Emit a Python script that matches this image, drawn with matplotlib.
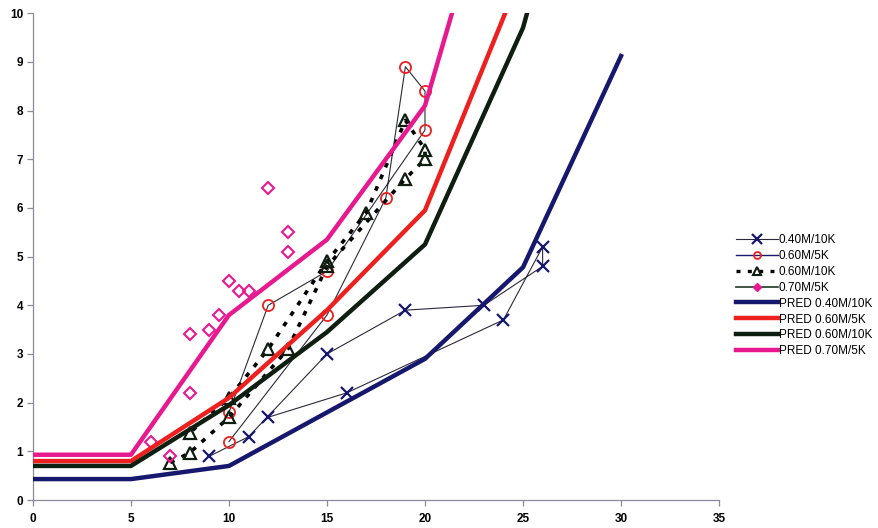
import matplotlib
matplotlib.use("Agg")
import matplotlib.pyplot as plt
from matplotlib.lines import Line2D

plt.rcParams["font.family"] = ["Liberation Sans", "DejaVu Sans"]

# predicted curves (x, y) per test condition
pred_x = [0, 5, 10, 15, 20, 25, 30]
pred_040_10k = [0.43, 0.43, 0.70, 1.80, 2.90, 4.78, 9.12]
pred_060_5k = [0.80, 0.80, 2.10, 3.90, 5.95, 10.9, 16.0]
pred_060_10k = [0.70, 0.70, 1.95, 3.45, 5.25, 9.70, 17.0]
pred_070_5k = [0.93, 0.93, 3.80, 5.35, 8.10, 15.0, 22.0]

# measured points, kept in recording order
m040_x = [9, 11, 15, 19, 23, 26, 26, 24, 16, 12]
m040_y = [0.9, 1.3, 3.0, 3.9, 4.0, 4.8, 5.2, 3.7, 2.2, 1.7]

m060_5k_x = [10, 12, 15, 20, 20, 19, 18, 15, 10]
m060_5k_y = [1.8, 4.0, 4.7, 7.6, 8.4, 8.9, 6.2, 3.8, 1.2]

m060_10k_x = [7, 8, 10, 13, 15, 19, 20, 20, 19, 17, 15, 12, 10, 8]
m060_10k_y = [0.77, 0.97, 1.7, 3.1, 4.8, 6.6, 7.0, 7.2, 7.8, 5.9, 4.9, 3.1, 2.1, 1.38]

m070_x = [6, 7, 8, 8, 9, 9.5, 10, 10.5, 11, 12, 13, 13]
m070_y = [1.2, 0.9, 2.2, 3.4, 3.5, 3.8, 4.5, 4.3, 4.3, 6.4, 5.5, 5.1]

labels = ["0.40M/10K", "0.60M/5K", "0.60M/10K", "0.70M/5K",
          "PRED 0.40M/10K", "PRED 0.60M/5K", "PRED 0.60M/10K", "PRED 0.70M/5K"]

NAVY = "#16186e"
RED = "#ee1f1f"
DKGRN = "#0e1e10"
PINK = "#e8198f"
THIN = "#2a2a3a"

fig = plt.figure(figsize=(8.79, 5.28), dpi=100)
ax = fig.add_axes([0.0375, 0.053, 0.7805, 0.922])

ax.plot(m040_x, m040_y, color=THIN, lw=0.8, marker="x", ms=8, mew=1.6,
        mec=NAVY, zorder=3)
ax.plot(m060_5k_x, m060_5k_y, color=THIN, lw=0.8, marker="o", ms=8,
        mfc="none", mec=RED, mew=1.3, zorder=3)
ax.plot(m060_10k_x, m060_10k_y, color="black", lw=2.6, ls=(0, (1.3, 2.2)),
        marker="^", ms=8, mfc="none", mec=DKGRN, mew=1.6, zorder=3)
ax.plot(m070_x, m070_y, ls="none", marker="D", ms=6.5, mfc="none",
        mec=PINK, mew=1.5, zorder=3)

ax.plot(pred_x, pred_040_10k, color=NAVY, lw=3.2, zorder=4)
ax.plot(pred_x, pred_060_5k, color=RED, lw=3.2, zorder=4)
ax.plot(pred_x, pred_060_10k, color=DKGRN, lw=3.2, zorder=4)
ax.plot(pred_x, pred_070_5k, color=PINK, lw=3.2, zorder=4)

ax.set_xlim(0, 35)
ax.set_ylim(0, 10)
ax.set_xticks(range(0, 36, 5))
ax.set_yticks(range(0, 11))
for side in ("top", "right"):
    ax.spines[side].set_visible(False)
for side in ("left", "bottom"):
    ax.spines[side].set_color("#8a8a9a")
    ax.spines[side].set_linewidth(0.9)
ax.tick_params(direction="out", length=4, width=0.9, color="#8a8a9a",
               labelsize=8.5, pad=3)
ax.tick_params(axis="x", pad=5)
for t in ax.get_xticklabels() + ax.get_yticklabels():
    t.set_fontweight("bold")

handles = [
    Line2D([], [], color=THIN, lw=0.8, marker="x", ms=7, mew=1.6, mec=NAVY),
    Line2D([], [], color=NAVY, lw=1.0, marker="o", ms=5, mfc="none", mec=RED, mew=1.3),
    Line2D([], [], color="black", lw=2.4, ls=(0, (1.2, 2.2)), marker="^", ms=6,
           mfc="none", mec=DKGRN, mew=1.5),
    Line2D([], [], color="#1f3a25", lw=1.2, marker="D", ms=4, mfc=PINK, mec=PINK),
    Line2D([], [], color=NAVY, lw=3.2),
    Line2D([], [], color=RED, lw=3.2),
    Line2D([], [], color=DKGRN, lw=3.2),
    Line2D([], [], color=PINK, lw=3.2),
]
fig.legend(handles, labels, loc="center left", bbox_to_anchor=(0.831, 0.44),
           frameon=False, fontsize=8.5, handlelength=3.5, handletextpad=0.1,
           labelspacing=0.33, borderpad=0)

fig.savefig("out.png", dpi=100)
